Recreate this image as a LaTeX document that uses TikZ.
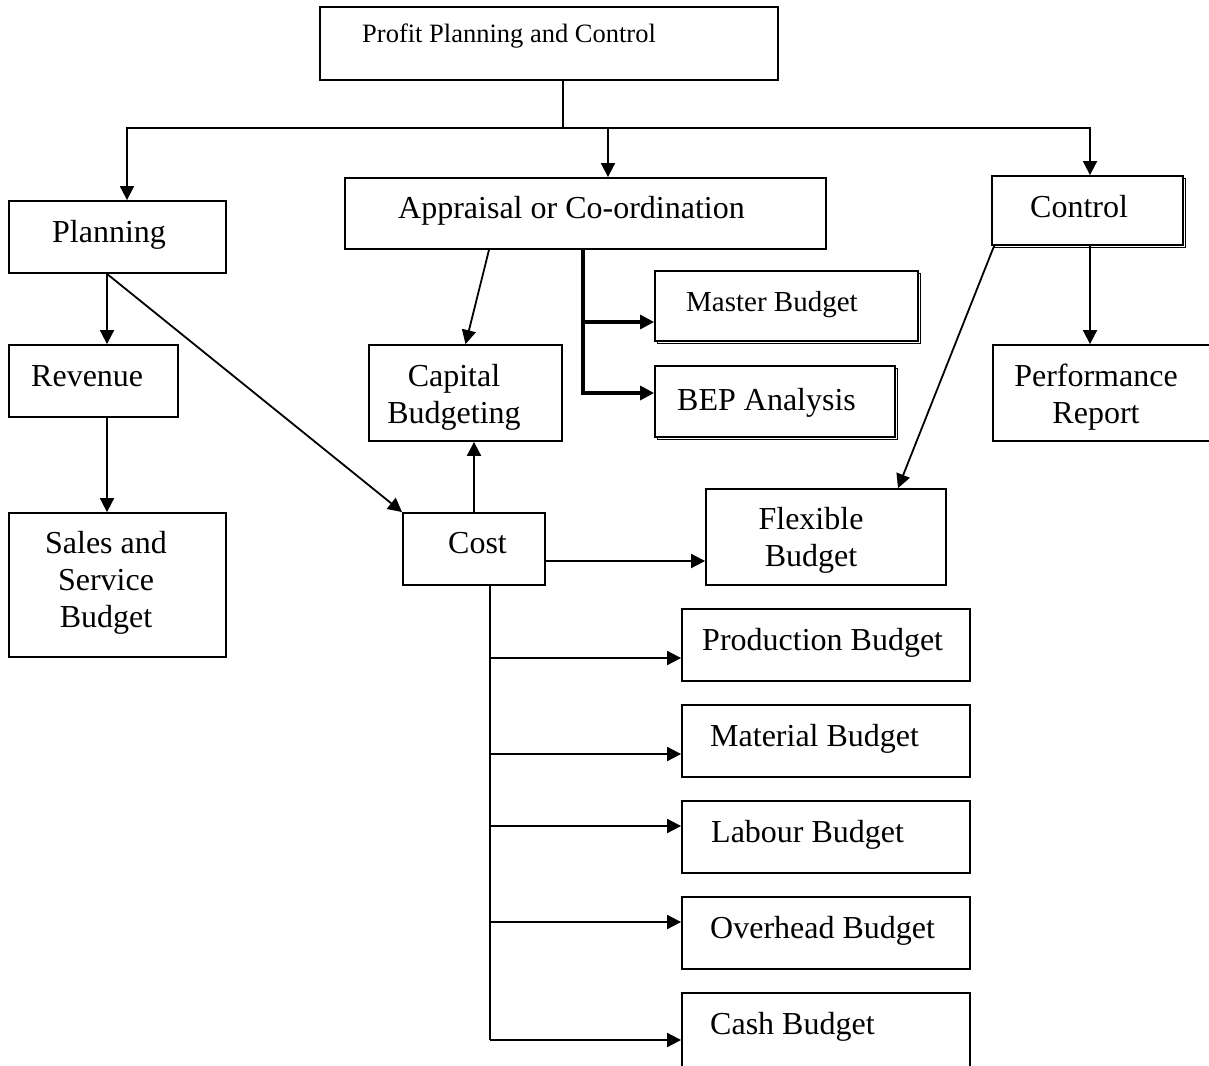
\documentclass[tikz,border=0pt]{standalone}
\usepackage{fontspec}
\setmainfont{Liberation Serif}
\usetikzlibrary{arrows.meta,calc,shadows}
\tikzset{
  box/.style 2 args={draw,fill=white,line width=1.8pt,inner sep=0pt,
    minimum width=#1pt,minimum height=#2pt},
  shbox/.style={copy shadow={shadow xshift=2.5pt,shadow yshift=-2.5pt,
    draw=black,fill=white,line width=1.8pt}},
  lbl/.style={font=\fontsize{32}{37}\selectfont,inner sep=0pt},
  conn/.style={line width=1.8pt},
  arr/.style={conn,-{Triangle[length=14pt,width=14pt]}},
  dblarr/.style={arr,line width=3.2pt}
}
\begin{document}
\begin{tikzpicture}[x=1pt,y=-1pt]
  \useasboundingbox (0,0) rectangle (1209,1065);
  % boxes
  \node[box={458}{73},line width=2.6pt] (ppc) at (549,43.5) {};
  \node[box={217}{72}] (plan) at (117.5,237) {};
  \node[box={481}{71}] (apr) at (585.5,213.5) {};
  \node[box={191}{69},shbox] (ctl) at (1087.5,210.5) {};
  \node[box={169}{72}] (rev) at (93.5,381) {};
  \node[box={193}{96}] (cap) at (465.5,393) {};
  \node[box={263}{70},shbox] (mst) at (786.5,306) {};
  \node[box={240}{71},shbox] (bep) at (775,401.5) {};
  \node[box={218}{96}] (perf) at (1102,393) {};
  \node[box={217}{144}] (sales) at (117.5,585) {};
  \node[box={142}{72}] (cost) at (474,549) {};
  \node[box={240}{96}] (flex) at (826,537) {};
  \node[box={288}{72}] (prod) at (826,645) {};
  \node[box={288}{72}] (mat) at (826,741) {};
  \node[box={288}{72}] (lab) at (826,837) {};
  \node[box={288}{72}] (ovh) at (826,933) {};
  \node[box={288}{80}] (cash) at (826,1033) {};

  % texts
  \node[lbl,font=\fontsize{26.5}{30}\selectfont,anchor=base west] (ppc-t) at (362,43) {Profit Planning and Control};
  \node[lbl,anchor=base west] (plan-t) at (52,242) {Planning};
  \node[lbl,anchor=base west] (apr-t) at (398,218) {Appraisal or Co-ordination};
  \node[lbl,anchor=base west] (ctl-t) at (1030,217) {Control};
  \node[lbl,font=\fontsize{29}{33}\selectfont,anchor=base west] (mst-t) at (686,311) {Master Budget};
  \node[lbl,anchor=base west] (rev-t) at (31,386) {Revenue};
  \node[lbl,align=center,anchor=north] (cap-t) at (454,364) {Capital\\Budgeting};
  \node[lbl,anchor=base west] (bep-t) at (677,410) {BEP Analysis};
  \node[lbl,align=center,anchor=north] (perf-t) at (1096,364) {Performance\\Report};
  \node[lbl,align=center,anchor=north] (sales-t) at (106,531) {Sales and\\Service\\Budget};
  \node[lbl,anchor=base west] (cost-t) at (448,553) {Cost};
  \node[lbl,align=center,anchor=north] (flex-t) at (811,507) {Flexible\\Budget};
  \node[lbl,anchor=base west] (prod-t) at (702,650) {Production Budget};
  \node[lbl,anchor=base west] (mat-t) at (710,746) {Material Budget};
  \node[lbl,anchor=base west] (lab-t) at (711,842) {Labour Budget};
  \node[lbl,anchor=base west] (ovh-t) at (710,938) {Overhead Budget};
  \node[lbl,anchor=base west] (cash-t) at (710,1034) {Cash Budget};

  % top distribution bar
  \coordinate (bus) at (563,128);
  \draw[conn] (bus |- ppc.south) -- (bus);
  \draw[arr] (bus) -| ($(plan.north)+(9.5,0)$);
  \draw[arr] (bus) -| ($(apr.north)+(22.5,0)$);
  \draw[arr] (bus) -| ($(ctl.north)+(2.5,0)$);

  % planning side
  \coordinate (pl) at ($(plan.south)+(-10.5,0)$);
  \draw[arr] (pl) -- (pl |- rev.north);
  \draw[arr] (pl) -- (cost.north west);
  \coordinate (rv) at ($(rev.south)+(13.5,0)$);
  \draw[arr] (rv) -- (rv |- sales.north);

  % appraisal side
  \draw[arr] ($(apr.south)+(-96.5,0)$) -- (cap.north);
  \draw[arr] (cost.north) -- (cost.north |- cap.south);
  \coordinate (ab) at ($(apr.south)+(-2.5,0)$);
  \coordinate (mst-in) at ($(mst.west)+(0,16)$);
  \coordinate (bep-in) at ($(bep.west)+(0,-8.5)$);
  \draw[dblarr] (ab) |- (mst-in);
  \draw[dblarr] (ab) |- (bep-in);

  % control side
  \draw[arr] ($(ctl.south west)+(3,0)$) -- ($(flex.north)+(72,0)$);
  \coordinate (cp) at ($(ctl.south)+(2.5,0)$);
  \draw[arr] (cp) -- (cp |- perf.north);

  % cost branches
  \coordinate (cf) at ($(cost.east)+(0,12)$);
  \draw[arr] (cf) -- (cf -| flex.west);
  \coordinate (trunk) at ($(cost.south)+(16,0)$);
  \foreach \b/\dy in {prod/13,mat/13,lab/-11,ovh/-11,cash/7}{
    \coordinate (\b-in) at ($(\b.west)+(0,\dy)$);
    \draw[arr] (trunk |- \b-in) -- (\b-in);
  }
  \draw[conn] (trunk) -- (trunk |- cash-in);
\end{tikzpicture}
\end{document}
